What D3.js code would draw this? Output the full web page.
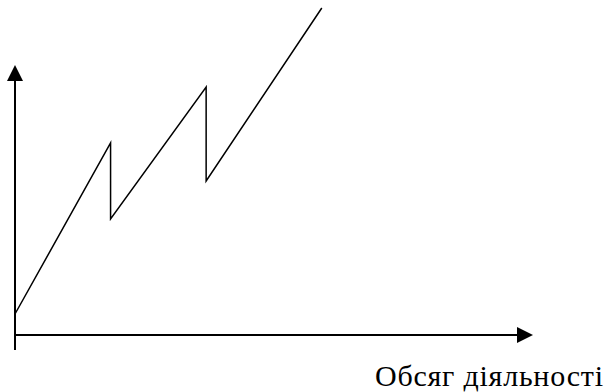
<!DOCTYPE html>
<html><head><meta charset="utf-8">
<script src="https://cdn.jsdelivr.net/npm/d3@7"></script>
<style>html,body{margin:0;padding:0;background:#fff;}svg{display:block;}</style>
</head><body>
<svg id="c" width="607" height="392"></svg>
<script>
// Activity volume (x) and cost level (y) — stepped cost line
const xValues = [0, 1.0, 1.0, 2.0, 2.0, 3.21];
const yValues = [2.1, 19.2, 11.6, 24.8, 15.4, 32.7];
const xAxisLabel = "Обсяг діяльності";
const xAxisEnd = 5.42;   // arrow tip of horizontal axis
const yAxisEnd = 27.0;   // arrow tip of vertical axis
const yAxisStart = -1.5;

const svg = d3.select("#c");
const x = d3.scaleLinear().domain([0, xAxisEnd]).range([15, 533]);
const y = d3.scaleLinear().domain([0, 32.7]).range([335, 8]);

const ah = 16, aw = 8;
// vertical axis
svg.append("line").attr("x1", x(0)).attr("x2", x(0))
  .attr("y1", y(yAxisStart)).attr("y2", y(yAxisEnd) + ah)
  .attr("stroke", "#000").attr("stroke-width", 2);
svg.append("path")
  .attr("d", `M${x(0)},${y(yAxisEnd)} L${x(0)-aw},${y(yAxisEnd)+ah} L${x(0)+aw},${y(yAxisEnd)+ah} Z`)
  .attr("fill", "#000");
// horizontal axis
svg.append("line").attr("x1", x(0)).attr("x2", x(xAxisEnd) - ah)
  .attr("y1", y(0)).attr("y2", y(0))
  .attr("stroke", "#000").attr("stroke-width", 2);
svg.append("path")
  .attr("d", `M${x(xAxisEnd)},${y(0)} L${x(xAxisEnd)-ah},${y(0)-aw} L${x(xAxisEnd)-ah},${y(0)+aw} Z`)
  .attr("fill", "#000");

// data line
const pts = xValues.map((v, i) => [v, yValues[i]]);
svg.append("path").datum(pts)
  .attr("d", d3.line().x(d => x(d[0])).y(d => y(d[1])))
  .attr("fill", "none").attr("stroke", "#000").attr("stroke-width", 1.5)
  .attr("stroke-linejoin", "miter");

const t = svg.append("text").attr("x", 375).attr("y", 386)
  .attr("font-family", "'Liberation Serif', 'Times New Roman', serif")
  .attr("font-size", 30).attr("fill", "#000")
  .text(xAxisLabel);
const w = t.node().getComputedTextLength();
const target = 228;
t.attr("letter-spacing", Math.max(0, (target - w) / (xAxisLabel.length - 1)).toFixed(2));
</script>
</body></html>
